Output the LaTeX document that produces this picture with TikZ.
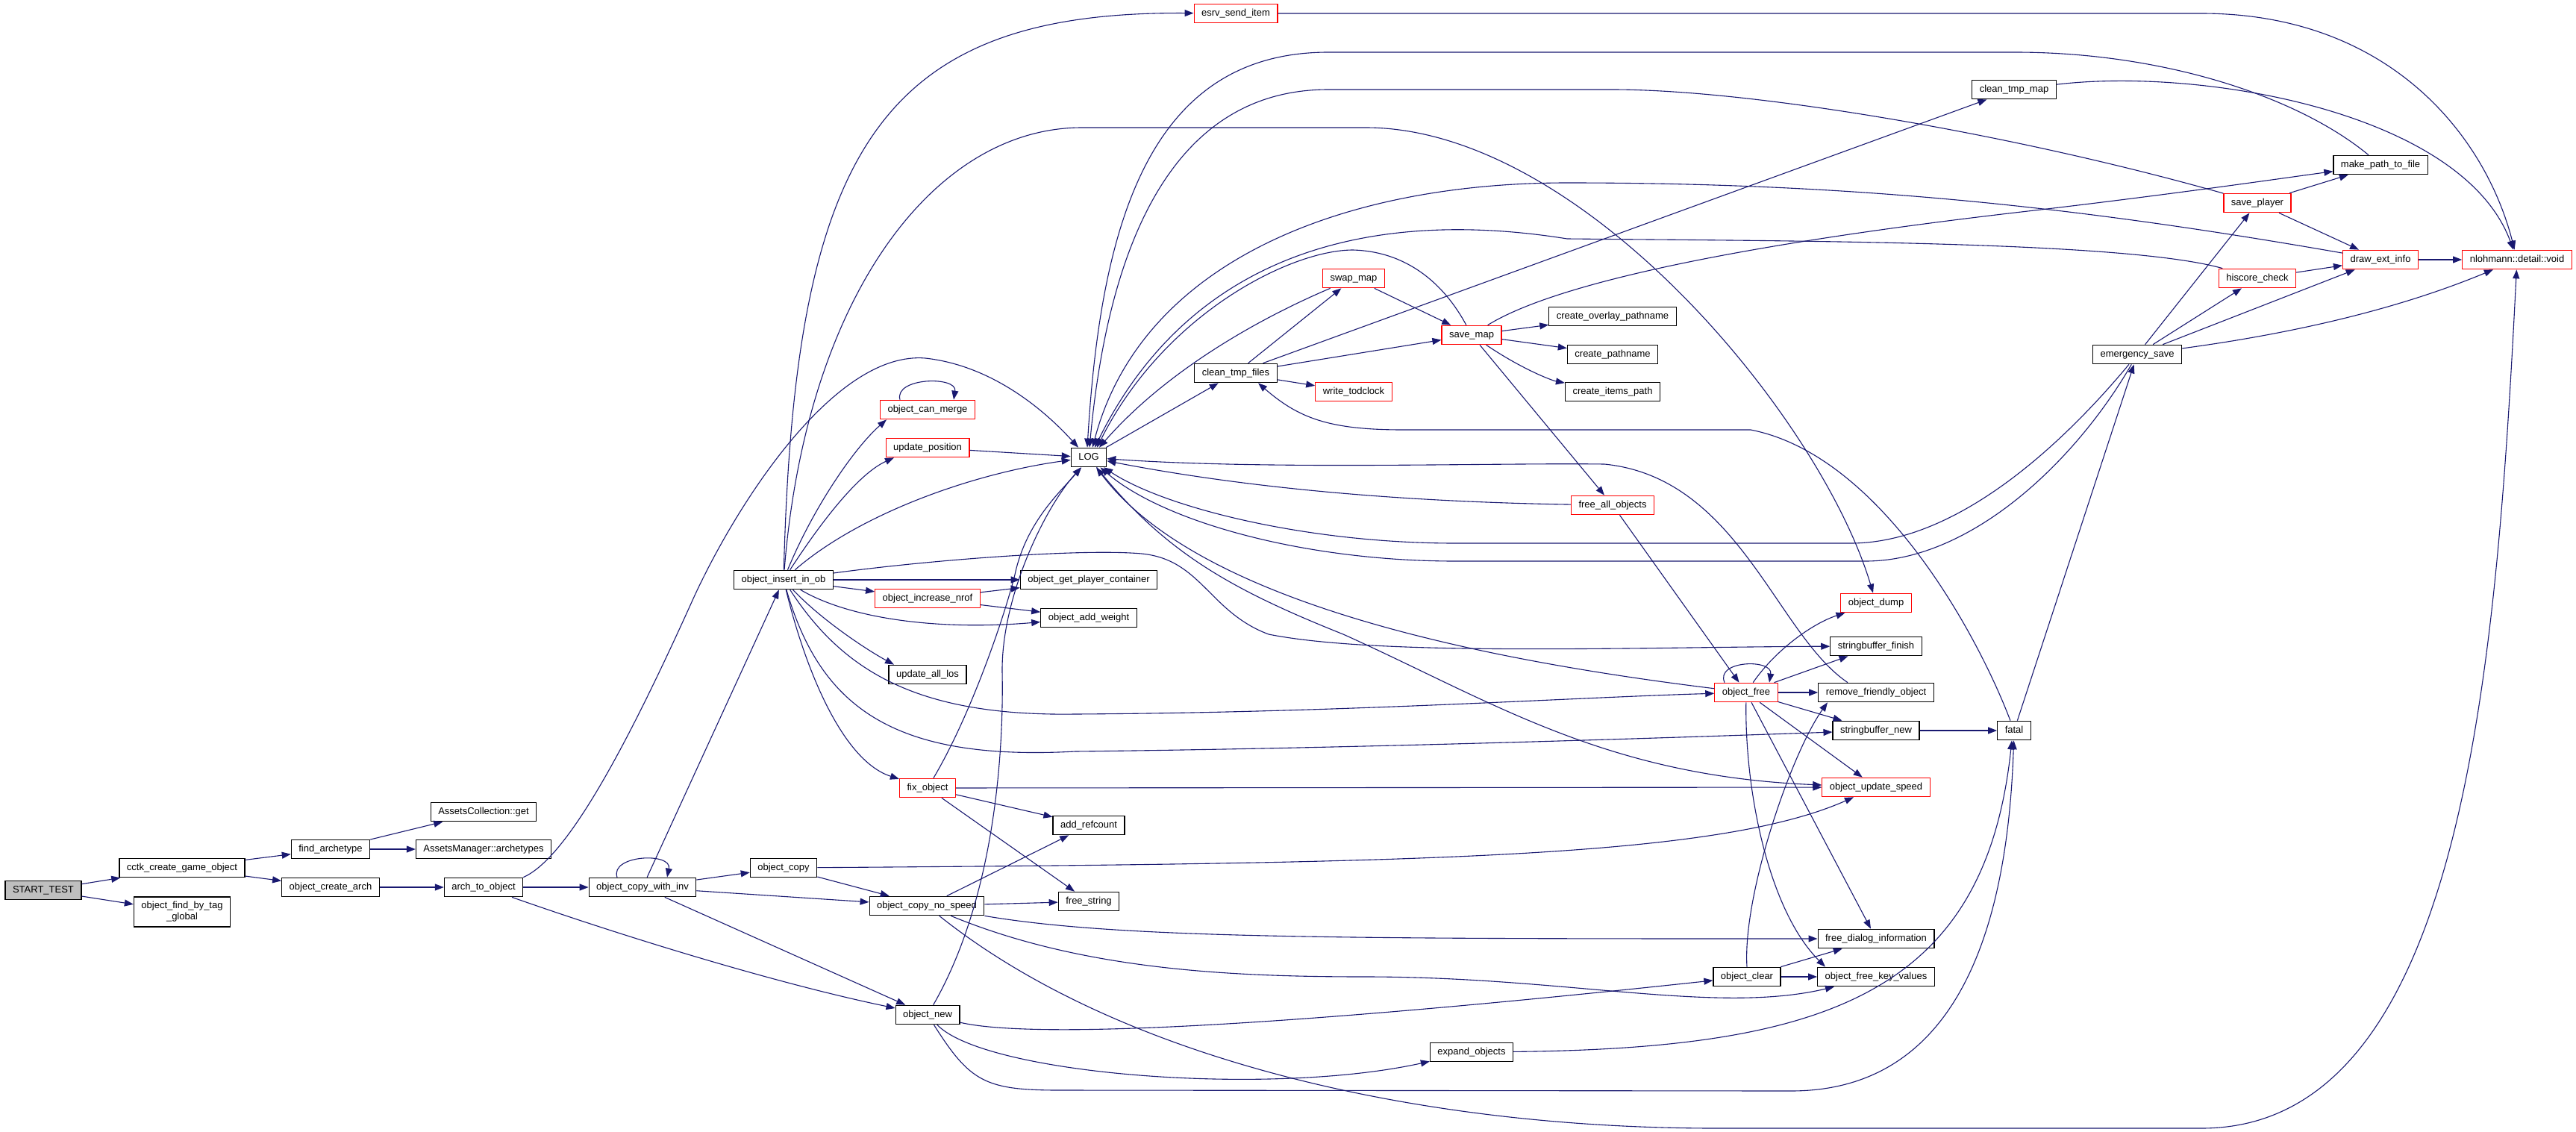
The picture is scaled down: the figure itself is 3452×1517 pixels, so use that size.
\documentclass[tikz,border=0pt]{standalone}
\usepackage{fontspec}
\setmainfont{Liberation Sans}
\usetikzlibrary{arrows.meta}
\definecolor{edgeblue}{RGB}{25,25,112}
\definecolor{startgray}{RGB}{191,191,191}
\tikzset{
	fn/.style={draw=black, fill=white, line width=1.2pt, minimum height=25.5pt, inner xsep=10pt, inner ysep=0pt, text height=10pt, text depth=3pt, font=\fontsize{13pt}{15pt}\selectfont},
	fnred/.style={fn, draw=red},
	calls/.style={draw=edgeblue, line width=1.1pt, -{Triangle[length=12pt,width=9pt]}},
}

\begin{document}
\begin{tikzpicture}[x=1pt,y=-1pt]
			%%%%% START %%%%%
			\useasboundingbox (0,0) rectangle (3452,1517);
			
			\node[fn, fill=startgray] (start) at (58,1193) {START\_TEST};
			\node[fn] (cctk) at (244,1163) {cctk\_create\_game\_object};
			\node[fn, align=center, minimum height=40pt, text height=25pt, text depth=4pt] (findtag) at (244,1222) {object\_find\_by\_tag\\\_global};
			\node[fn] (findarch) at (443,1138) {find\_archetype};
			\node[fn] (createarch) at (443,1189) {object\_create\_arch};
			\node[fn] (acget) at (648,1088) {AssetsCollection::get};
			\node[fn] (amarch) at (648,1138) {AssetsManager::archetypes};
			\node[fn] (archobj) at (648,1189) {arch\_to\_object};
			\node[fn] (copyinv) at (861,1189) {object\_copy\_with\_inv};
			\node[fn] (insert) at (1050,777) {object\_insert\_in\_ob};
			\node[fn] (copy) at (1050,1163) {object\_copy};
			
			\node[fnred] (canmerge) at (1243,549) {object\_can\_merge};
			\node[fnred] (updpos) at (1243,600) {update\_position};
			\node[fnred] (incnrof) at (1243,802) {object\_increase\_nrof};
			\node[fn] (alllos) at (1243,904) {update\_all\_los};
			\node[fnred] (fixobj) at (1243,1056) {fix\_object};
			\node[fn] (copynospeed) at (1242,1214) {object\_copy\_no\_speed};
			\node[fn] (objnew) at (1243,1360) {object\_new};
			
			\node[fn] (log) at (1459,613) {LOG};
			\node[fn] (playercont) at (1459,777) {object\_get\_player\_container};
			\node[fn] (addweight) at (1459,828) {object\_add\_weight};
			\node[fn] (addref) at (1459,1106) {add\_refcount};
			\node[fn] (freestr) at (1459,1208) {free\_string};
			
			\node[fnred] (esrv) at (1656,18) {esrv\_send\_item};
			\node[fn] (cleanfiles) at (1656,500) {clean\_tmp\_files};
			\node[fnred] (swapmap) at (1814,373) {swap\_map};
			\node[fnred] (todclock) at (1814,525) {write\_todclock};
			\node[fnred] (savemap) at (1972,449) {save\_map};
			\node[fn] (expandobj) at (1972,1410) {expand\_objects};
			\node[fn] (overlaypath) at (2161,424) {create\_overlay\_pathname};
			\node[fn] (pathname) at (2161,475) {create\_pathname};
			\node[fn] (itemspath) at (2161,525) {create\_items\_path};
			\node[fnred] (freeall) at (2161,677) {free\_all\_objects};
			
			\node[fnred] (objfree) at (2340,928) {object\_free};
			\node[fn] (objclear) at (2341,1309) {object\_clear};
			\node[fnred] (objdump) at (2514,808) {object\_dump};
			\node[fn] (sbfinish) at (2514,866) {stringbuffer\_finish};
			\node[fn] (removefriendly) at (2514,928) {remove\_friendly\_object};
			\node[fn] (sbnew) at (2514,979) {stringbuffer\_new};
			\node[fnred] (updspeed) at (2514,1055) {object\_update\_speed};
			\node[fn] (freedialog) at (2514,1258) {free\_dialog\_information};
			\node[fn] (freekv) at (2514,1309) {object\_free\_key\_values};
			
			\node[fn] (cleanmap) at (2699,120) {clean\_tmp\_map};
			\node[fn] (fatal) at (2699,979) {fatal};
			\node[fn] (emergency) at (2864,475) {emergency\_save};
			\node[fnred] (saveplayer) at (3025,272) {save\_player};
			\node[fnred] (hiscore) at (3025,373) {hiscore\_check};
			\node[fn] (makepath) at (3190,221) {make\_path\_to\_file};
			\node[fnred] (drawext) at (3190,348) {draw\_ext\_info};
			\node[fnred] (nlohmann) at (3373,348) {nlohmann::detail::void};
			
			% left part
			\draw[calls] (start) -- (cctk);
			\draw[calls] (start) -- (findtag);
			\draw[calls] (cctk) -- (findarch);
			\draw[calls] (cctk) -- (createarch);
			\draw[calls] (findarch) -- (acget);
			\draw[calls] (findarch) -- (amarch);
			\draw[calls] (createarch) -- (archobj);
			\draw[calls] (archobj) -- (copyinv);
			\draw[calls] (archobj) .. controls (850,1260) and (1050,1320) .. (objnew);
			\draw[calls] (archobj.north east) .. controls (760,1150) and (840,1000) .. (930,800) .. controls (990,670) and (1120,470) .. (1240,480) .. controls (1330,490) and (1400,550) .. ([xshift=-14pt]log.north);
			
			\draw[calls] ([xshift=-34pt]copyinv.north) .. controls ([xshift=-44pt,yshift=30pt]copyinv.north) and ([xshift=40pt,yshift=34pt]copyinv.north) .. ([xshift=33pt]copyinv.north);
			\draw[calls] (copyinv) -- (copy);
			\draw[calls] (copyinv) -- (copynospeed);
			\draw[calls] (copyinv) -- (objnew);
			\draw[calls] (copyinv) -- (insert);
			\draw[calls] (copy) -- (copynospeed);
			\draw[calls] (copy) .. controls (1900,1157) and (2300,1150) .. (updspeed);
			
			% object_insert_in_ob
			\draw[calls] (insert) .. controls (1065,200) and (1180,15) .. (esrv);
			\draw[calls] (insert) .. controls (1080,400) and (1250,171) .. (1450,171) -- (1830,171) .. controls (2120,171) and (2440,560) .. (objdump);
			\draw[calls] (insert) .. controls (1090,680) and (1145,600) .. ([xshift=-55pt]canmerge.south);
			\draw[calls] (insert) .. controls (1100,700) and (1150,635) .. ([xshift=-45pt]updpos.south);
			\draw[calls] (insert) .. controls (1150,690) and (1300,635) .. (log);
			\draw[calls] (insert) -- (playercont);
			\draw[calls] (insert) -- (incnrof);
			\draw[calls] (insert) .. controls (1140,830) and (1260,845) .. (addweight);
			\draw[calls] (insert) .. controls (1100,830) and (1160,870) .. ([xshift=-45pt]alllos.north);
			\draw[calls] (insert) .. controls (1080,900) and (1130,1020) .. (fixobj);
			\draw[calls] (insert) .. controls (1130,900) and (1230,960) .. (1440,957) .. controls (1800,955) and (2100,935) .. (objfree);
			\draw[calls] (insert) .. controls (1100,950) and (1200,1020) .. (1441,1007) .. controls (1800,1003) and (2200,990) .. (sbnew);
			\draw[calls] (insert) .. controls (1250,750) and (1450,735) .. (1530,742) .. controls (1610,750) and (1620,820) .. (1700,850) .. controls (1850,880) and (2200,867) .. (sbfinish);
			
			\draw[calls] ([xshift=-37pt]canmerge.north) .. controls ([xshift=-45pt,yshift=30pt]canmerge.north) and ([xshift=40pt,yshift=32pt]canmerge.north) .. ([xshift=35pt]canmerge.north);
			\draw[calls] (updpos) -- (log);
			\draw[calls] (incnrof) -- (playercont);
			\draw[calls] (incnrof) -- (addweight);
			
			\draw[calls] (fixobj) -- (addref);
			\draw[calls] (fixobj) -- (freestr);
			\draw[calls] (fixobj) -- (updspeed);
			\draw[calls] (fixobj) .. controls (1300,960) and (1345,830) .. (1360,770) .. controls (1375,700) and (1420,660) .. ([xshift=-10pt]log.south);
			
			\draw[calls] (copynospeed) -- (addref);
			\draw[calls] (copynospeed) -- (freestr);
			\draw[calls] (copynospeed.south east) .. controls (1500,1258) and (1800,1258) .. (freedialog);
			\draw[calls] (copynospeed) .. controls (1450,1300) and (1650,1309) .. (1830,1309) .. controls (2100,1309) and (2300,1360) .. (freekv);
			\draw[calls] (copynospeed) .. controls (1500,1420) and (1900,1512) .. (2300,1512) -- (2950,1512) .. controls (3300,1512) and (3345,900) .. (nlohmann);
			
			\draw[calls] (objnew) .. controls (1335,1200) and (1345,1000) .. (1343,900) .. controls (1342,800) and (1400,680) .. ([xshift=-10pt]log.south);
			\draw[calls] (objnew) .. controls (1380,1392) and (1700,1378) .. (objclear);
			\draw[calls] (objnew) .. controls (1320,1440) and (1700,1470) .. (expandobj);
			\draw[calls] (objnew) .. controls (1300,1450) and (1320,1461) .. (1420,1461) -- (2400,1462) .. controls (2620,1462) and (2690,1250) .. (fatal);
			\draw[calls] (expandobj) .. controls (2450,1405) and (2660,1330) .. ([xshift=-3pt]fatal.south);
			
			% LOG and the map saving
			\draw[calls] (log) -- (cleanfiles);
			\draw[calls] (log) .. controls (1560,740) and (1650,790) .. (1800,850) .. controls (2000,940) and (2150,1040) .. (updspeed);
			\draw[calls] (cleanfiles) -- (swapmap);
			\draw[calls] (cleanfiles) -- (savemap);
			\draw[calls] (cleanfiles) -- (todclock);
			\draw[calls] (cleanfiles) -- (cleanmap);
			\draw[calls] (swapmap) -- (savemap);
			\draw[calls] (swapmap) .. controls (1680,430) and (1560,500) .. ([xshift=14pt]log.north);
			\draw[calls] (savemap) .. controls (1935,380) and (1885,337) .. (1813,335) .. controls (1730,335) and (1560,420) .. ([xshift=11pt]log.north);
			\draw[calls] (savemap) -- (overlaypath);
			\draw[calls] (savemap) -- (pathname);
			\draw[calls] (savemap) .. controls (2040,495) and (2080,510) .. (itemspath);
			\draw[calls] (savemap) -- (freeall);
			\draw[calls] (savemap) .. controls (2100,370) and (2400,320) .. (2700,285) .. controls (2900,262) and (3050,240) .. (makepath);
			\draw[calls] (freeall) -- (objfree);
			\draw[calls] (freeall) .. controls (1850,672) and (1650,650) .. (log);
			
			% object_free
			\draw[calls] ([xshift=-29pt]objfree.north) .. controls ([xshift=-42pt,yshift=30pt]objfree.north) and ([xshift=36pt,yshift=32pt]objfree.north) .. ([xshift=31pt]objfree.north);
			\draw[calls] (objfree) .. controls (2380,870) and (2430,835) .. (objdump);
			\draw[calls] (objfree) -- (sbfinish);
			\draw[calls] (objfree) -- (removefriendly);
			\draw[calls] (objfree) -- (sbnew);
			\draw[calls] (objfree) -- (updspeed);
			\draw[calls] (objfree) -- (freedialog);
			\draw[calls] (objfree) .. controls (2338,1060) and (2370,1220) .. ([xshift=-68pt]freekv.north);
			\draw[calls] (objfree) .. controls (1950,880) and (1600,800) .. (log);
			\draw[calls] ([xshift=-38pt]removefriendly.north) .. controls (2380,850) and (2330,640) .. (2150,622) .. controls (2000,620) and (1700,630) .. (log);
			
			\draw[calls] (objclear) -- (freedialog);
			\draw[calls] (objclear) -- (freekv);
			\draw[calls] (objclear.north) .. controls (2335,1200) and (2400,1010) .. ([xshift=-65pt]removefriendly.south);
			
			% fatal and emergency_save
			\draw[calls] (sbnew) -- (fatal);
			\draw[calls] (fatal) -- (emergency);
			\draw[calls] (fatal) .. controls (2650,850) and (2520,610) .. (2346,576) -- (1880,576) .. controls (1780,576) and (1740,560) .. ([xshift=30pt]cleanfiles.south);
			\draw[calls] (emergency) .. controls (2760,600) and (2620,728) .. (2480,728) -- (1950,728) .. controls (1750,728) and (1560,680) .. (log);
			\draw[calls] (emergency) .. controls (2780,620) and (2640,752) .. (2500,752) -- (1950,752) .. controls (1750,752) and (1560,700) .. (log);
			\draw[calls] (emergency) -- (saveplayer);
			\draw[calls] (emergency) -- (hiscore);
			\draw[calls] (emergency) -- (drawext);
			\draw[calls] (emergency) .. controls (3050,450) and (3200,420) .. (nlohmann);
			
			\draw[calls] (saveplayer) -- (makepath);
			\draw[calls] (saveplayer) -- (drawext);
			\draw[calls] (hiscore) -- (drawext);
			\draw[calls] (drawext) -- (nlohmann);
			\draw[calls] (cleanmap) .. controls (2950,90) and (3300,150) .. (nlohmann);
			\draw[calls] (esrv.east) -- (2950,18) .. controls (3200,18) and (3330,180) .. (nlohmann);
			
			% long arcs back to LOG
			\draw[calls] (makepath) .. controls (3080,130) and (2900,70) .. (2700,70) -- (1780,70) .. controls (1540,70) and (1475,300) .. ([xshift=-2pt]log.north);
			\draw[calls] (saveplayer) .. controls (2700,180) and (2350,120) .. (2160,120) -- (1780,120) .. controls (1570,120) and (1485,330) .. ([xshift=1pt]log.north);
			\draw[calls] (drawext) .. controls (2800,280) and (2500,245) .. (2100,245) .. controls (1800,245) and (1530,350) .. ([xshift=5pt]log.north);
			\draw[calls] (hiscore) .. controls (2850,323) and (2400,323) .. (2100,320) .. controls (1850,280) and (1600,330) .. ([xshift=8pt]log.north);
			
			%%%%% END %%%%%
\end{tikzpicture}
\end{document}
